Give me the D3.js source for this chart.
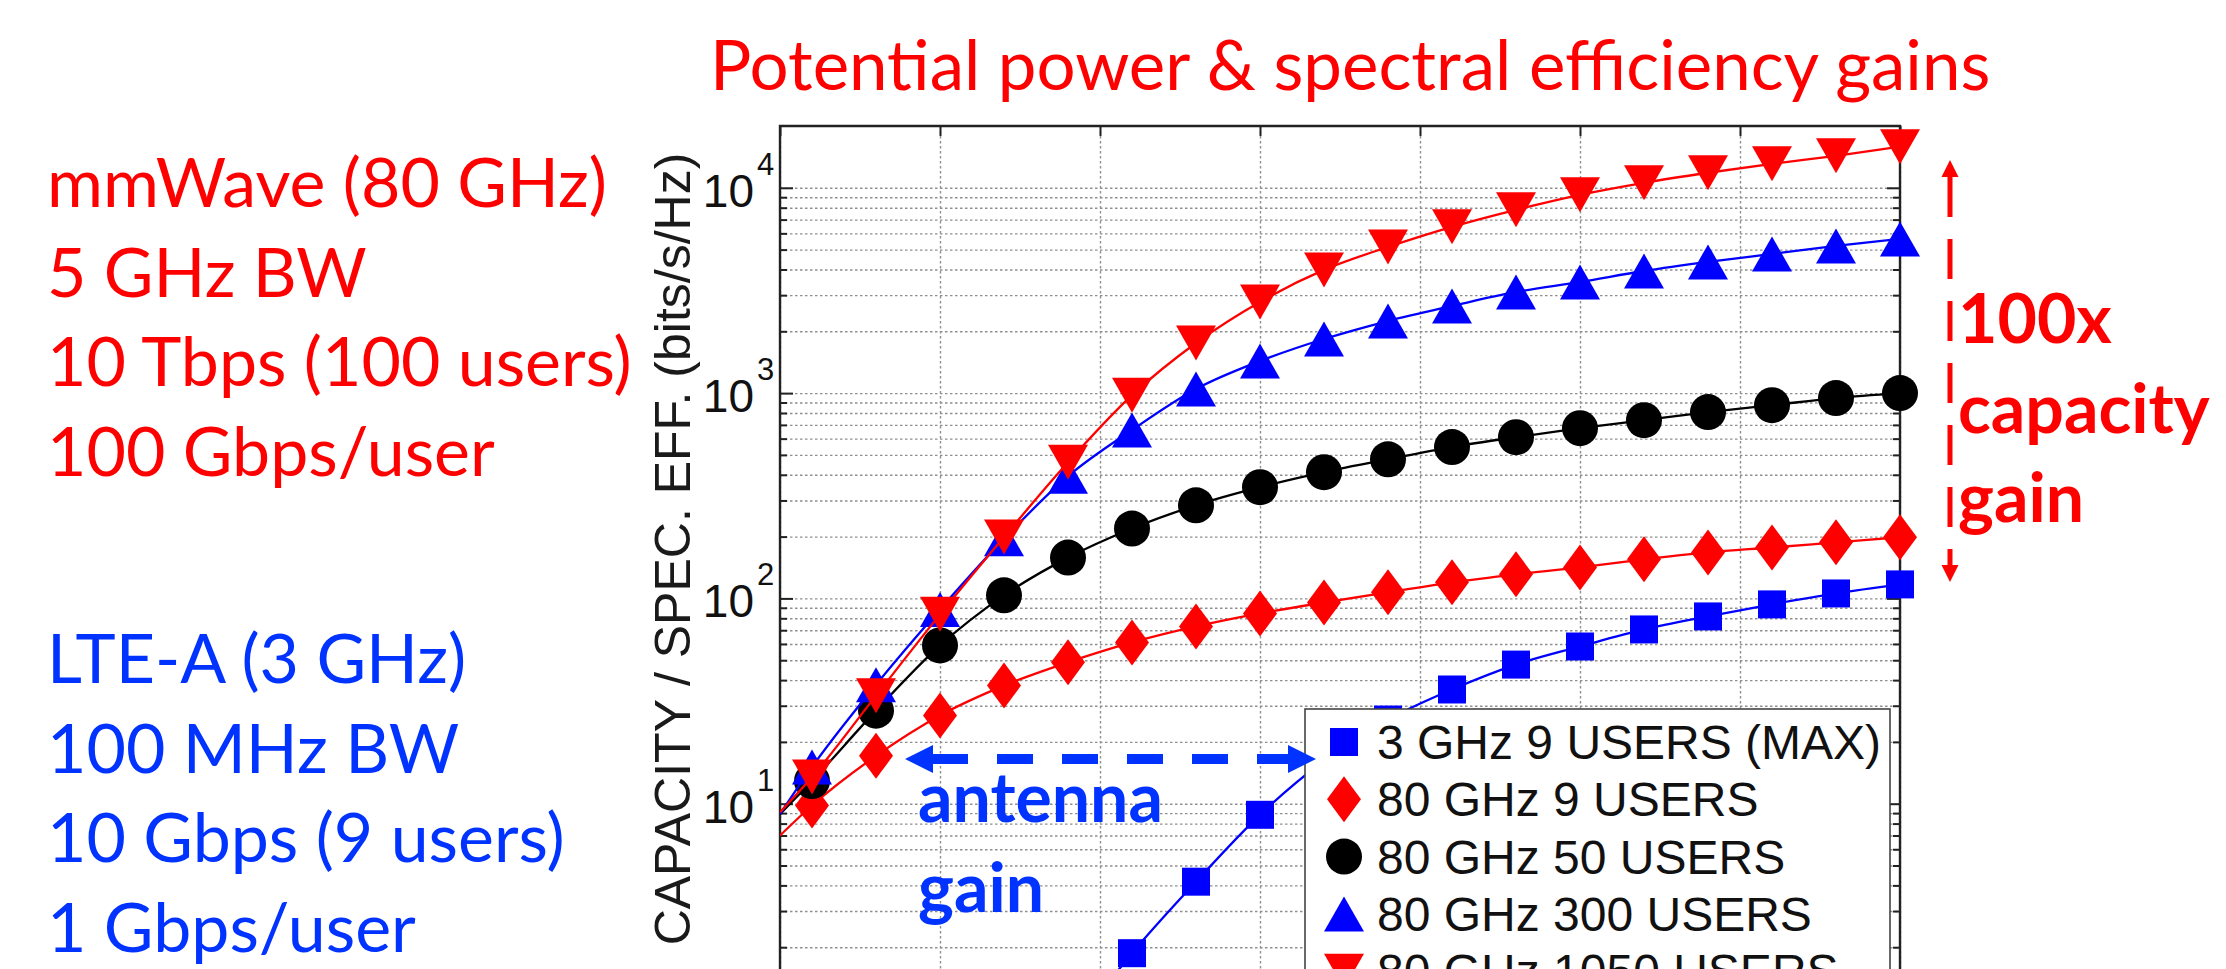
<!DOCTYPE html>
<html>
<head>
<meta charset="utf-8">
<script src="https://cdn.jsdelivr.net/npm/d3@7"></script>
<style>
body { margin: 0; background: #fff; }
svg { display: block; }
</style>
</head>
<body>
<div id="chart"></div>
<script>
var W = 2226, H = 969;

// x position of the markers (same for every curve)
var xValues = [10, 30, 50, 70, 90, 110, 130, 150, 170, 190, 210, 230, 250, 270, 290, 310, 330, 350];
var xTicks = [0, 50, 100, 150, 200, 250, 300, 350];
var yTicks = [1, 10, 100, 1000, 10000];
var yTickLabels = [10, 100, 1000, 10000]; // 10^0 sits below the visible area
var yMinorDigits = [2, 3, 4, 5, 6, 7, 8, 9];

// capacity / spectral efficiency (bits/s/Hz)
var cap3g9 = [null, null, null, null, 0.74, 1.87, 4.17, 8.83, 16.2, 25.7, 36, 47.6, 58.3, 70.6, 81.7, 93.5, 105.7, 117];
var cap80g9 = [9.8, 17.1, 26.9, 37.6, 48.8, 61, 73, 84.5, 95.5, 107, 119.7, 131, 141.6, 155, 167.5, 177, 187.5, 198.6];
var cap80g50 = [12.9, 28.4, 59, 103.5, 158, 219, 284, 348, 412, 476, 546, 610, 675, 738, 808, 873, 946, 1000];
var cap80g300 = [15.1, 38, 88.4, 195, 394, 661, 1047, 1432, 1834, 2244, 2655, 3109, 3478, 3933, 4355, 4764, 5212, 5636];
var cap80g1050 = [13.5, 33.6, 83.6, 199, 460, 977, 1754, 2780, 3981, 5152, 6457, 7816, 9247, 10580, 11840, 13090, 14320, 15850];
// where each curve meets the left axis (x = 0)
var startValues = [null, 7.0, 8.9, 8.9, 9.1];

var seriesNames = ["3 GHz 9 USERS (MAX)", "80 GHz 9 USERS", "80 GHz 50 USERS", "80 GHz 300 USERS", "80 GHz 1050 USERS"];
var seriesColors = ["#0000ff", "#ff0000", "#000000", "#0000ff", "#ff0000"];
var seriesMarkers = ["square", "diamond", "circle", "up", "down"];
var seriesValues = [cap3g9, cap80g9, cap80g50, cap80g300, cap80g1050];

var titleText = "Potential power & spectral efficiency gains";
var mmwaveText = ["mmWave (80 GHz)", "5 GHz BW", "10 Tbps (100 users)", "100 Gbps/user"];
var lteText = ["LTE-A (3 GHz)", "100 MHz BW", "10 Gbps (9 users)", "1 Gbps/user"];
var capGainText = ["100x", "capacity", "gain"];
var antGainText = ["antenna", "gain"];
var yLabel = "CAPACITY / SPEC. EFF. (bits/s/Hz)";

var RED = "#ff0000", BLUE = "#0033ff";
var calibri = "Lato, 'Open Sans', sans-serif";
var helv = "'Liberation Sans', Arial, sans-serif";

// plot box (window.top is reserved, so use other names)
var pL = 780, pR = 1900, pT = 126, pB = 1009;

var svg = d3.select("#chart").append("svg").attr("width", W).attr("height", H);
svg.append("rect").attr("width", W).attr("height", H).attr("fill", "#fff");

var x = d3.scaleLinear().domain([0, 350]).range([pL, pR]);
var y = d3.scaleLog().domain([1, 20000]).range([pB, pT]);

var yMinor = [];
yTicks.slice(0, 4).forEach(function(t) {
  yMinorDigits.forEach(function(d) { yMinor.push(t * d); });
});

svg.append("clipPath").attr("id", "plotclip")
  .append("rect").attr("x", pL).attr("y", pT).attr("width", pR - pL).attr("height", pB - pT);

//grid lines, dotted
var grid = svg.append("g").attr("class", "grid");
grid.append("g").attr("transform", "translate(" + pL + ",0)")
  .call(d3.axisLeft(y).tickValues(yTicks.concat(yMinor)).tickSize(-(pR - pL)).tickFormat(""));
grid.append("g").attr("transform", "translate(0," + pT + ")")
  .call(d3.axisTop(x).tickValues(xTicks).tickSize(-(pB - pT)).tickFormat(""));
grid.selectAll(".domain").remove();
grid.selectAll("line").attr("stroke", "#8f8f8f").attr("stroke-width", 1.4).attr("stroke-dasharray", "2.5,2.5");

//tick marks pointing inwards
function ticks(axis, tx, ty) {
  var g = svg.append("g").attr("transform", "translate(" + tx + "," + ty + ")").call(axis);
  g.selectAll(".domain").remove();
  g.selectAll("line").attr("stroke", "#222").attr("stroke-width", 2);
  return g;
}
ticks(d3.axisLeft(y).tickValues(yTicks).tickSize(-13).tickFormat(""), pL, 0);
ticks(d3.axisLeft(y).tickValues(yMinor).tickSize(-7).tickFormat(""), pL, 0);
ticks(d3.axisRight(y).tickValues(yTicks).tickSize(-13).tickFormat(""), pR, 0);
ticks(d3.axisRight(y).tickValues(yMinor).tickSize(-7).tickFormat(""), pR, 0);
ticks(d3.axisTop(x).tickValues(xTicks).tickSize(-10).tickFormat(""), 0, pT);

//axis box
svg.append("path")
  .attr("d", "M" + pL + "," + pB + "V" + pT + "H" + pR + "V" + pB)
  .attr("fill", "none").attr("stroke", "#222").attr("stroke-width", 2.4);

//y tick labels 10^n
var ylab = svg.append("g").selectAll("g").data(yTickLabels).enter().append("g");
ylab.append("text")
  .attr("x", 754).attr("y", function(d) { return y(d) + 19; })
  .attr("text-anchor", "end").attr("font-family", helv).attr("font-size", 46).attr("fill", "#111")
  .text("10");
ylab.append("text")
  .attr("x", 757).attr("y", function(d) { return y(d) - 13; })
  .attr("font-family", helv).attr("font-size", 31).attr("fill", "#111")
  .text(function(d) { return Math.round(Math.log10(d)); });

//y axis title
svg.append("text")
  .attr("transform", "translate(690,549) rotate(-90)")
  .attr("text-anchor", "middle").attr("font-family", helv).attr("font-size", 50).attr("fill", "#1a1a1a")
  .text(yLabel);

//markers
function markerPath(type) {
  if (type == "square") return "M-14,-14H14V14H-14Z";
  if (type == "diamond") return "M0,-23L17,0L0,23L-17,0Z";
  if (type == "circle") return d3.symbol(d3.symbolCircle, Math.PI * 18 * 18)();
  if (type == "up") return "M0,-17.5L20,17.5L-20,17.5Z";
  return "M0,17.5L20,-17.5L-20,-17.5Z";
}

var line = d3.line()
  .defined(function(d) { return d.v != null; })
  .x(function(d) { return x(d.x); })
  .y(function(d) { return y(d.v); })
  .curve(d3.curveMonotoneX);

seriesValues.forEach(function(vals, i) {
  var pts = xValues.map(function(xv, k) { return {x: xv, v: vals[k]}; });
  var linePts = [{x: 0, v: startValues[i]}].concat(pts).filter(function(d) { return d.v != null; });
  svg.append("path").datum(linePts)
    .attr("clip-path", "url(#plotclip)")
    .attr("d", line).attr("fill", "none")
    .attr("stroke", seriesColors[i]).attr("stroke-width", 2.3);
  svg.append("g").selectAll("path")
    .data(pts.filter(function(d) { return d.v != null; }))
    .enter().append("path")
    .attr("transform", function(d) { return "translate(" + x(d.x) + "," + y(d.v) + ")"; })
    .attr("d", markerPath(seriesMarkers[i]))
    .attr("fill", seriesColors[i]);
});

//legend
var leg = svg.append("g");
leg.append("rect").attr("x", 1305).attr("y", 709).attr("width", 585).attr("height", 320)
  .attr("fill", "#fff").attr("stroke", "#444").attr("stroke-width", 1.6);
var rows = leg.selectAll("g.row").data(seriesNames).enter().append("g")
  .attr("transform", function(d, i) { return "translate(1344," + (742 + i * 57.3) + ")"; });
rows.append("path").attr("d", function(d, i) { return markerPath(seriesMarkers[i]); })
  .attr("fill", function(d, i) { return seriesColors[i]; });
rows.append("text").attr("x", 33).attr("y", 17)
  .attr("font-family", helv).attr("font-size", 48).attr("fill", "#111")
  .text(function(d) { return d; });

//title and side notes
svg.append("text").attr("x", 710).attr("y", 90)
  .attr("font-family", calibri).attr("font-size", 69).attr("fill", RED).text(titleText);

svg.append("g").selectAll("text").data(mmwaveText).enter().append("text")
  .attr("x", 47).attr("y", function(d, i) { return 207 + i * 89.7; })
  .attr("font-family", calibri).attr("font-size", 68).attr("fill", RED).text(function(d) { return d; });

svg.append("g").selectAll("text").data(lteText).enter().append("text")
  .attr("x", 47).attr("y", function(d, i) { return 683 + i * 89.7; })
  .attr("font-family", calibri).attr("font-size", 68).attr("fill", BLUE).text(function(d) { return d; });

svg.append("g").selectAll("text").data(capGainText).enter().append("text")
  .attr("x", 1958).attr("y", function(d, i) { return 343 + i * 89.5; })
  .attr("font-family", calibri).attr("font-weight", "bold").attr("font-size", 68).attr("fill", RED)
  .text(function(d) { return d; });

svg.append("g").selectAll("text").data(antGainText).enter().append("text")
  .attr("x", 918).attr("y", function(d, i) { return 822 + i * 90; })
  .attr("font-family", calibri).attr("font-weight", "bold").attr("font-size", 68).attr("fill", BLUE)
  .text(function(d) { return d; });

//double headed dashed arrows
function arrowHead(g, tipX, tipY, dx, dy, len, half, color) {
  // dx,dy unit direction of the tip
  var bx = tipX - dx * len, by = tipY - dy * len;
  g.append("path")
    .attr("d", "M" + tipX + "," + tipY + "L" + (bx - dy * half) + "," + (by + dx * half) +
      "L" + (bx + dy * half) + "," + (by - dx * half) + "Z")
    .attr("fill", color);
}
var ant = svg.append("g");
ant.append("line").attr("x1", 932).attr("x2", 1293).attr("y1", 759).attr("y2", 759)
  .attr("stroke", BLUE).attr("stroke-width", 10).attr("stroke-dasharray", "36,29");
arrowHead(ant, 905, 759, -1, 0, 28, 14, BLUE);
arrowHead(ant, 1316, 759, 1, 0, 28, 14, BLUE);

var capArrow = svg.append("g");
capArrow.append("line").attr("x1", 1950).attr("x2", 1950).attr("y1", 177).attr("y2", 565)
  .attr("stroke", RED).attr("stroke-width", 5).attr("stroke-dasharray", "40,22");
arrowHead(capArrow, 1950, 160, 0, -1, 17, 8.5, RED);
arrowHead(capArrow, 1950, 582, 0, 1, 17, 8.5, RED);
</script>
</body>
</html>
